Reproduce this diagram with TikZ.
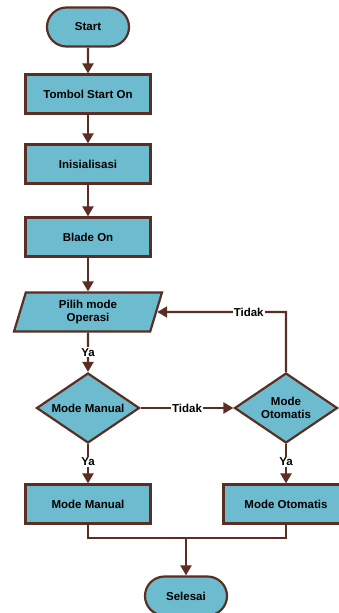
\documentclass[tikz,border=0pt]{standalone}
\usepackage{fontspec}
\setmainfont{Liberation Sans}
\usetikzlibrary{shapes.geometric,shapes.misc,arrows.meta}
\definecolor{boxfill}{HTML}{6DBBCE}
\definecolor{edge}{HTML}{5A2E22}
\tikzset{
  x=1pt,y=-1pt,
  base/.style={draw=edge,line width=2.2pt,fill=boxfill,font=\bfseries\fontsize{11.5}{13.5}\selectfont,align=center,inner sep=0pt},
  term/.style={base,rounded rectangle,minimum width=82pt,minimum height=39pt},
  proc/.style={base,rectangle,minimum width=125pt,minimum height=39pt},
  io/.style={base,trapezium,trapezium left angle=64,trapezium right angle=116,minimum width=148pt,minimum height=39pt,trapezium stretches body},
  decision/.style={base,diamond,aspect=1.48,minimum width=103pt,minimum height=70pt},
  flow/.style={draw=edge,line width=2.2pt,-{Triangle[length=10pt,width=11pt]}},
  link/.style={draw=edge,line width=2.2pt},
  lbl/.style={font=\bfseries\fontsize{11.5}{13.5}\selectfont,fill=white,inner sep=1pt}
}
\begin{document}
\begin{tikzpicture}
\useasboundingbox (0,0) rectangle (339,613);
\begin{scope}
\clip (0,0) rectangle (339,613);
\node[term] (start) at (88,27) {Start};
\node[proc] (tombol) at (88,94) {Tombol Start On};
\node[proc] (init) at (88,164) {Inisialisasi};
\node[proc] (blade) at (88,237) {Blade On};
\node[io] (pilih) at (88,312) {Pilih mode\\Operasi};
\node[decision] (dman) at (88,408) {Mode Manual};
\node[decision] (doto) at (286,408) {Mode\\Otomatis};
\node[proc] (pman) at (88,504) {Mode Manual};
\node[proc] (poto) at (286,504) {Mode Otomatis};
\node[term] (end) at (186,596) {Selesai};
\coordinate (loop) at (286,312);
\coordinate (jl) at (88,538);
\coordinate (jr) at (286,538);
\coordinate (jm) at (186,538);

\draw[flow] (start) -- (tombol);
\draw[flow] (tombol) -- (init);
\draw[flow] (init) -- (blade);
\draw[flow] (blade) -- (pilih);
\draw[flow] (pilih) -- node[lbl]{Ya} (dman);
\draw[flow] (dman) -- node[lbl]{Tidak} (doto);
\draw[flow] (doto.north) -- (loop) -- node[lbl,pos=0.29]{Tidak} (pilih.east);
\draw[flow] (dman) -- node[lbl,pos=0.45]{Ya} (pman);
\draw[flow] (doto) -- node[lbl,pos=0.45]{Ya} (poto);
\draw[link] (pman.south) -- (jl) -- (jr) -- (poto.south);
\draw[flow] (jm) -- (end);
\end{scope}
\end{tikzpicture}
\end{document}
